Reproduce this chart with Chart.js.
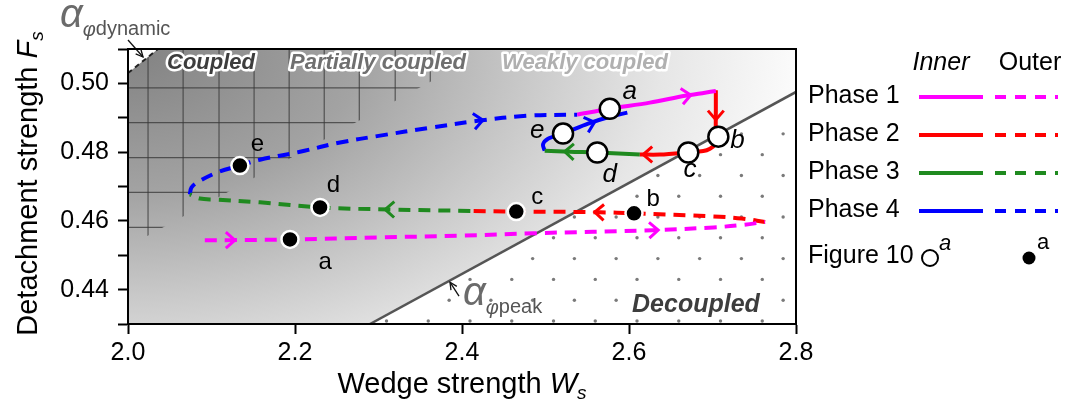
<!DOCTYPE html>
<html>
<head>
<meta charset="utf-8">
<script src="https://cdn.jsdelivr.net/npm/chart.js@4.4.1/dist/chart.umd.min.js"></script>
<style>
  html, body { margin: 0; padding: 0; background: #fff; }
  #wrap { width: 1069px; height: 411px; }
</style>
</head>
<body>
<div id="wrap"><canvas id="c" width="1069" height="411"></canvas></div>
<script>
const F = '"Liberation Sans", Arial, Helvetica, sans-serif';

// Axis ticks
const xTicks = [2.0, 2.2, 2.4, 2.6, 2.8];
const yTickMarks = [0.43, 0.44, 0.45, 0.46, 0.47, 0.48, 0.49, 0.50, 0.51];
const yTickLabels = ['', '0.44', '', '0.46', '', '0.48', '', '0.50', ''];

// Outer rim cycle (dashed), one path per phase: [Ws, Fs]
const outerPhase1 = [[2.092,0.4544],[2.122,0.4544],[2.194,0.4546],[2.302,0.4552],[2.398,0.4557],[2.485,0.4564],[2.629,0.4573],[2.701,0.4581],[2.735,0.4588],[2.763,0.4597]];
const outerPhase2 = [[2.763,0.4597],[2.735,0.4607],[2.701,0.4613],[2.606,0.4622],[2.565,0.4625],[2.481,0.4627],[2.465,0.4627],[2.410,0.4629]];
const outerPhase3 = [[2.410,0.4629],[2.314,0.4633],[2.230,0.4639],[2.158,0.4654],[2.104,0.4662],[2.086,0.4665],[2.074,0.4677]];
const outerPhase4 = [[2.074,0.4677],[2.076,0.4697],[2.083,0.4712],[2.107,0.4741],[2.134,0.4761],[2.158,0.4778],[2.206,0.4801],[2.254,0.4828],[2.302,0.4848],[2.362,0.4871],[2.419,0.4891],[2.478,0.4906],[2.538,0.4909]];

// Inner cycle (solid)
const innerPhase1 = [[2.538,0.4909],[2.577,0.4926],[2.625,0.4944],[2.667,0.4964],[2.691,0.4973],[2.704,0.4978]];
const innerPhase2 = [[2.704,0.4980],[2.704,0.4923],[2.704,0.4865],[2.705,0.4845],[2.703,0.4822],[2.697,0.4810],[2.689,0.4803],[2.671,0.4799],[2.637,0.4793],[2.613,0.4793]];
const innerPhase3 = [[2.613,0.4793],[2.562,0.4799],[2.529,0.4801],[2.499,0.4804]];
const innerPhase4 = [[2.499,0.4804],[2.497,0.4822],[2.503,0.4839],[2.521,0.4854],[2.551,0.4883],[2.577,0.4903],[2.598,0.4915]];

// Figure 10 snapshots a-e
const markLetters = ['a','b','c','d','e'];
const innerMarks = [[2.577,0.4926],[2.707,0.4845],[2.671,0.4799],[2.562,0.4799],[2.521,0.4854]];
const outerMarks = [[2.194,0.4546],[2.606,0.4622],[2.465,0.4627],[2.230,0.4639],[2.134,0.4761]];
const innerLabelPos = [[2.601,0.4975],[2.730,0.4833],[2.673,0.4749],[2.577,0.4735],[2.490,0.4862]];
const outerLabelPos = [[2.236,0.4480],[2.629,0.4662],[2.490,0.4668],[2.246,0.4703],[2.155,0.4822]];

// Direction chevrons: [phase index, Ws, Fs]
const outerArrows = [[0,2.122,0.4544],[0,2.629,0.4573],[1,2.565,0.4625],[2,2.314,0.4633],[3,2.419,0.4891]];
const innerArrows = [[0,2.668,0.4964],[1,2.704,0.4909],[1,2.623,0.4793],[2,2.529,0.4801],[3,2.553,0.4883]];

// Stability boundaries
const peakLine = [[2.2898,0.43],[2.8,0.4975]];
const dynamicLine = [[2.0,0.5030],[2.0359,0.51]];
const partialOffset = 0.0609;   // coupled-zone edge, parallel to the peak line

// Coupled-zone mesh and decoupled-zone dot lattice
const meshX = [2.024,2.066,2.109,2.151,2.193,2.235,2.277,2.320,2.362,2.404];
const meshY = [0.4987,0.4886,0.4784,0.4683,0.4581];
const dotRow0 = 0.43087, dotRowStep = 0.00605, dotColStep = 0.05;

const zoneLabels = [
  {t:'Coupled', x:2.0994, y:0.5042, fill:'#3d3d3d', size:22},
  {t:'Partially coupled', x:2.2994, y:0.5042, fill:'#6f6f6f', size:22},
  {t:'Weakly coupled', x:2.5473, y:0.5042, fill:'#b0b0b0', size:22},
  {t:'Decoupled', x:2.6802, y:0.4335, fill:'#3d3d3d', size:25}
];

const phaseNames = ['Phase 1','Phase 2','Phase 3','Phase 4'];
const phaseColors = ['#ff00ff','#ff0000','#1f8a1f','#0000ff'];
const outerPaths = [outerPhase1, outerPhase2, outerPhase3, outerPhase4];
const innerPaths = [innerPhase1, innerPhase2, innerPhase3, innerPhase4];

const pts = a => a.map(([x, y]) => ({x, y}));
const DASH = [12, 8];

const datasets = [];
outerPaths.forEach((p, i) => datasets.push({
  data: pts(p), showLine: true, borderColor: phaseColors[i], borderWidth: 4,
  borderDash: DASH, pointRadius: 0, tension: 0.35, order: 5
}));
innerPaths.forEach((p, i) => datasets.push({
  data: pts(p), showLine: true, borderColor: phaseColors[i], borderWidth: 4,
  pointRadius: 0, tension: 0.3, order: 4
}));
datasets.push({
  data: pts(peakLine), showLine: true, borderColor: '#555', borderWidth: 2.5,
  pointRadius: 0, order: 8
});
datasets.push({
  data: pts(dynamicLine), showLine: true, borderColor: '#222', borderWidth: 2,
  borderDash: [5, 4], pointRadius: 0, order: 8
});
datasets.push({
  data: pts(outerMarks), showLine: false, pointRadius: 8.5, pointBackgroundColor: '#000',
  pointBorderColor: '#fff', pointBorderWidth: 2.5, order: 1
});
datasets.push({
  data: pts(innerMarks), showLine: false, pointRadius: 10, pointBackgroundColor: '#fff',
  pointBorderColor: '#000', pointBorderWidth: 2.5, order: 0
});

function runsWidth(ctx, runs) {
  let w = 0;
  for (const r of runs) { ctx.font = r.font; w += ctx.measureText(r.t).width; }
  return w;
}
function drawRuns(ctx, runs, x, y, color) {
  let cx = x;
  for (const r of runs) {
    ctx.font = r.font;
    ctx.fillStyle = r.color || color;
    ctx.fillText(r.t, cx, y + (r.dy || 0));
    cx += ctx.measureText(r.t).width;
  }
}
function chevron(ctx, px, py, ang, color) {
  const L = 12, s = 0.72;
  ctx.save();
  ctx.translate(px, py);
  ctx.rotate(ang);
  ctx.translate(5, 0);
  ctx.strokeStyle = color; ctx.lineWidth = 3; ctx.lineJoin = 'miter'; ctx.lineCap = 'butt';
  ctx.setLineDash([]);
  ctx.beginPath();
  ctx.moveTo(-L * Math.cos(s), -L * Math.sin(s));
  ctx.lineTo(0, 0);
  ctx.lineTo(-L * Math.cos(s), L * Math.sin(s));
  ctx.stroke();
  ctx.restore();
}
function thinArrow(ctx, x0, y0, x1, y1) {
  const ang = Math.atan2(y1 - y0, x1 - x0);
  ctx.save();
  ctx.strokeStyle = '#111'; ctx.lineWidth = 1.3; ctx.setLineDash([]);
  ctx.beginPath(); ctx.moveTo(x0, y0); ctx.lineTo(x1, y1); ctx.stroke();
  ctx.beginPath();
  ctx.moveTo(x1 - 8 * Math.cos(ang - 0.45), y1 - 8 * Math.sin(ang - 0.45));
  ctx.lineTo(x1, y1);
  ctx.lineTo(x1 - 8 * Math.cos(ang + 0.45), y1 - 8 * Math.sin(ang + 0.45));
  ctx.stroke();
  ctx.restore();
}
function peakF(ws) {
  const [[x0, y0], [x1, y1]] = peakLine;
  return y0 + (y1 - y0) / (x1 - x0) * (ws - x0);
}

const backdrop = {
  id: 'backdrop',
  beforeDatasetsDraw(chart) {
    const {ctx, chartArea: a, scales: {x, y}} = chart;
    const X = v => x.getPixelForValue(v), Y = v => y.getPixelForValue(v);
    ctx.save();
    ctx.beginPath(); ctx.rect(a.left, a.top, a.width, a.height); ctx.clip();

    // grey shading, darkest in the coupled corner
    ctx.save();
    const rx = a.width * 1.0, ry = a.height * 1.5;
    ctx.translate(a.left, a.top);
    ctx.scale(1, ry / rx);
    const g = ctx.createRadialGradient(0, 0, 0, 0, 0, rx);
    g.addColorStop(0, '#828282');
    g.addColorStop(0.35, '#a3a3a3');
    g.addColorStop(0.6, '#c9c9c9');
    g.addColorStop(0.8, '#e6e6e6');
    g.addColorStop(1, '#fbfbfb');
    ctx.fillStyle = g;
    ctx.fillRect(0, 0, a.width + 10, (a.height + 10) * rx / ry);
    ctx.restore();

    // soft light band along the peak line
    ctx.save();
    const p0x = X(peakLine[0][0]), p0y = Y(peakLine[0][1]);
    const p1x = X(peakLine[1][0]), p1y = Y(peakLine[1][1]);
    const len = Math.hypot(p1x - p0x, p1y - p0y);
    const nx = (p1y - p0y) / len, ny = -(p1x - p0x) / len;   // normal towards the grey side
    const bw = 70;
    const lg = ctx.createLinearGradient(p0x, p0y, p0x - nx * bw, p0y - ny * bw);
    lg.addColorStop(0, 'rgba(255,255,255,0.85)');
    lg.addColorStop(1, 'rgba(255,255,255,0)');
    ctx.fillStyle = lg;
    ctx.beginPath();
    ctx.moveTo(p0x - (p1x - p0x), p0y - (p1y - p0y));
    ctx.lineTo(p1x + (p1x - p0x), p1y + (p1y - p0y));
    ctx.lineTo(p1x + (p1x - p0x) - nx * bw, p1y + (p1y - p0y) - ny * bw);
    ctx.lineTo(p0x - (p1x - p0x) - nx * bw, p0y - (p1y - p0y) - ny * bw);
    ctx.closePath(); ctx.fill();
    ctx.restore();

    // decoupled zone: white with dot lattice
    ctx.fillStyle = '#fff';
    ctx.beginPath();
    ctx.moveTo(X(2.2), Y(peakF(2.2)));
    ctx.lineTo(X(2.9), Y(peakF(2.9)));
    ctx.lineTo(X(2.9), Y(0.42));
    ctx.lineTo(X(2.2), Y(0.42));
    ctx.closePath(); ctx.fill();

    ctx.fillStyle = '#7a7a7a';
    for (let j = 0; j < 14; j++) {
      const fy = dotRow0 + j * dotRowStep;
      const start = (j % 2 === 0) ? 2.0096 : 2.0346;
      for (let k = 0; k < 20; k++) {
        const ws = start + k * dotColStep;
        if (ws > 2.81) break;
        if (Y(fy) - Y(peakF(ws)) < 4) continue;
        ctx.beginPath(); ctx.arc(X(ws), Y(fy), 1.7, 0, Math.PI * 2); ctx.fill();
      }
    }

    // coupled-zone mesh, bounded by a line parallel to the peak line
    ctx.save();
    ctx.beginPath();
    ctx.moveTo(X(1.9), Y(peakF(1.9) + partialOffset));
    ctx.lineTo(X(2.6), Y(peakF(2.6) + partialOffset));
    ctx.lineTo(X(2.6), Y(0.52));
    ctx.lineTo(X(1.9), Y(0.52));
    ctx.closePath(); ctx.clip();
    ctx.strokeStyle = 'rgba(55,55,55,0.75)'; ctx.lineWidth = 1.2;
    meshX.forEach(v => { ctx.beginPath(); ctx.moveTo(X(v), a.top); ctx.lineTo(X(v), a.bottom); ctx.stroke(); });
    meshY.forEach(v => { ctx.beginPath(); ctx.moveTo(a.left, Y(v)); ctx.lineTo(a.right, Y(v)); ctx.stroke(); });
    ctx.restore();

    // corner above the dynamic line
    ctx.fillStyle = '#fff';
    ctx.beginPath();
    ctx.moveTo(X(dynamicLine[0][0]), Y(dynamicLine[0][1]));
    ctx.lineTo(X(dynamicLine[1][0]), Y(dynamicLine[1][1]));
    ctx.lineTo(X(2.0), Y(0.51));
    ctx.closePath(); ctx.fill();

    // zone names
    ctx.textAlign = 'center'; ctx.textBaseline = 'alphabetic';
    ctx.lineJoin = 'round';
    zoneLabels.forEach(z => {
      ctx.font = `italic bold ${z.size}px ${F}`;
      ctx.strokeStyle = '#fff'; ctx.lineWidth = 5;
      ctx.strokeText(z.t, X(z.x), Y(z.y));
      ctx.fillStyle = z.fill;
      ctx.fillText(z.t, X(z.x), Y(z.y));
    });
    ctx.restore();
  }
};

const overlay = {
  id: 'overlay',
  afterDatasetsDraw(chart) {
    const {ctx, chartArea: a, scales: {x, y}} = chart;
    const X = v => x.getPixelForValue(v), Y = v => y.getPixelForValue(v);

    // direction chevrons
    const drawArrows = (list, paths) => list.forEach(([ph, ax, ay]) => {
      const p = paths[ph].map(([u, v]) => [X(u), Y(v)]);
      const px = X(ax), py = Y(ay);
      let best = Infinity, dir = 0;
      for (let i = 0; i < p.length - 1; i++) {
        const [x0, y0] = p[i], [x1, y1] = p[i + 1];
        const dx = x1 - x0, dy = y1 - y0, L2 = dx * dx + dy * dy || 1;
        let t = ((px - x0) * dx + (py - y0) * dy) / L2;
        t = Math.max(0, Math.min(1, t));
        const d = Math.hypot(px - (x0 + t * dx), py - (y0 + t * dy));
        if (d < best - 1e-6) { best = d; dir = Math.atan2(dy, dx); }
      }
      chevron(ctx, px, py, dir, phaseColors[ph]);
    });
    drawArrows(outerArrows, outerPaths);
    drawArrows(innerArrows, innerPaths);

    // snapshot letters
    ctx.save();
    ctx.fillStyle = '#000'; ctx.textAlign = 'center'; ctx.textBaseline = 'middle';
    ctx.font = `italic 26px ${F}`;
    innerLabelPos.forEach(([u, v], i) => ctx.fillText(markLetters[i], X(u), Y(v)));
    ctx.font = `24px ${F}`;
    outerLabelPos.forEach(([u, v], i) => ctx.fillText(markLetters[i], X(u), Y(v)));
    ctx.restore();

    // boundary annotations
    ctx.save();
    ctx.textAlign = 'left'; ctx.textBaseline = 'alphabetic';
    const alphaRuns = sub => [
      {t: 'α', font: `italic 40px ${F}`, color: '#6b6b6b'},
      {t: 'φ', font: `italic 20px ${F}`, dy: 9, color: '#555'},
      {t: sub, font: `20px ${F}`, dy: 8, color: '#555'}
    ];
    drawRuns(ctx, alphaRuns('dynamic'), a.left - 68, a.top - 22, '#555');
    thinArrow(ctx, X(2.0), Y(0.51261), X(2.018), Y(0.50768));
    drawRuns(ctx, alphaRuns('peak'), X(2.4012), Y(0.4355), '#555');
    thinArrow(ctx, X(2.3964), Y(0.43812), X(2.3856), Y(0.44217));
    ctx.restore();
  },
  afterDraw(chart) {
    const {ctx, chartArea: a} = chart;
    ctx.save();
    // plot frame
    ctx.strokeStyle = '#000'; ctx.lineWidth = 2; ctx.setLineDash([]);
    ctx.strokeRect(a.left, a.top, a.width, a.height);

    // axis titles
    ctx.textAlign = 'left'; ctx.textBaseline = 'alphabetic';
    const xt = [
      {t: 'Wedge strength ', font: `29px ${F}`},
      {t: 'W', font: `italic 29px ${F}`},
      {t: 's', font: `italic 19px ${F}`, dy: 6}
    ];
    drawRuns(ctx, xt, (a.left + a.right) / 2 - runsWidth(ctx, xt) / 2, 393, '#000');
    const yt = [
      {t: 'Detachment strength ', font: `29px ${F}`},
      {t: 'F', font: `italic 29px ${F}`},
      {t: 's', font: `italic 19px ${F}`, dy: 6}
    ];
    ctx.save();
    ctx.translate(37, (a.top + a.bottom) / 2 - 3);
    ctx.rotate(-Math.PI / 2);
    drawRuns(ctx, yt, -runsWidth(ctx, yt) / 2, 0, '#000');
    ctx.restore();

    // key
    const lx = 808, solid0 = 919, solid1 = 983, dash0 = 995, dash1 = 1058;
    ctx.textBaseline = 'middle';
    ctx.fillStyle = '#000';
    ctx.font = `italic 25px ${F}`; ctx.textAlign = 'center';
    ctx.fillText('Inner', 941, 63);
    ctx.font = `25px ${F}`;
    ctx.fillText('Outer', 1030, 63);
    ctx.textAlign = 'left';
    const rowY = [96, 134, 172, 210];
    phaseNames.forEach((n, i) => {
      ctx.fillStyle = '#000'; ctx.font = `25px ${F}`;
      ctx.fillText(n, lx, rowY[i]);
      ctx.strokeStyle = phaseColors[i]; ctx.lineWidth = 4;
      ctx.setLineDash([]);
      ctx.beginPath(); ctx.moveTo(solid0, rowY[i] + 1); ctx.lineTo(solid1, rowY[i] + 1); ctx.stroke();
      ctx.setLineDash([11, 9]);
      ctx.beginPath(); ctx.moveTo(dash0, rowY[i] + 1); ctx.lineTo(dash1, rowY[i] + 1); ctx.stroke();
    });
    ctx.setLineDash([]);
    const fy = 256;
    ctx.fillStyle = '#000'; ctx.font = `25px ${F}`;
    ctx.fillText('Figure 10', lx, fy);
    ctx.beginPath(); ctx.arc(930, fy + 2, 8, 0, Math.PI * 2);
    ctx.fillStyle = '#fff'; ctx.fill(); ctx.strokeStyle = '#000'; ctx.lineWidth = 2; ctx.stroke();
    ctx.fillStyle = '#000';
    ctx.font = `italic 22px ${F}`; ctx.fillText('a', 939, fy - 12);
    ctx.beginPath(); ctx.arc(1029, fy + 2, 6.5, 0, Math.PI * 2); ctx.fill();
    ctx.font = `22px ${F}`; ctx.fillText('a', 1037, fy - 13);
    ctx.restore();
  }
};

new Chart(document.getElementById('c'), {
  type: 'scatter',
  data: { datasets },
  options: {
    responsive: false,
    animation: false,
    devicePixelRatio: 1,
    layout: { padding: { left: 0, top: 49, right: 273, bottom: 0 } },
    plugins: { legend: { display: false }, tooltip: { enabled: false } },
    scales: {
      x: {
        type: 'linear', min: 2.0, max: 2.8,
        afterBuildTicks: s => { s.ticks = xTicks.map(v => ({value: v})); },
        afterFit: s => { s.height = 87; },
        ticks: { callback: v => v.toFixed(1), font: { family: F, size: 25 }, color: '#000', padding: 4, maxRotation: 0 },
        grid: { drawOnChartArea: false, drawTicks: true, tickLength: 10, tickWidth: 2, tickColor: '#000' },
        border: { display: true, color: '#000', width: 2 }
      },
      y: {
        type: 'linear', min: 0.43, max: 0.51,
        afterBuildTicks: s => { s.ticks = yTickMarks.map(v => ({value: v})); },
        afterFit: s => { s.width = 128; },
        ticks: {
          callback: (v, i) => yTickLabels[i],
          font: { family: F, size: 25 }, color: '#000', padding: 9
        },
        grid: { drawOnChartArea: false, drawTicks: true, tickLength: 10, tickWidth: 2, tickColor: '#000' },
        border: { display: true, color: '#000', width: 2 }
      }
    }
  },
  plugins: [backdrop, overlay]
});
</script>
</body>
</html>
